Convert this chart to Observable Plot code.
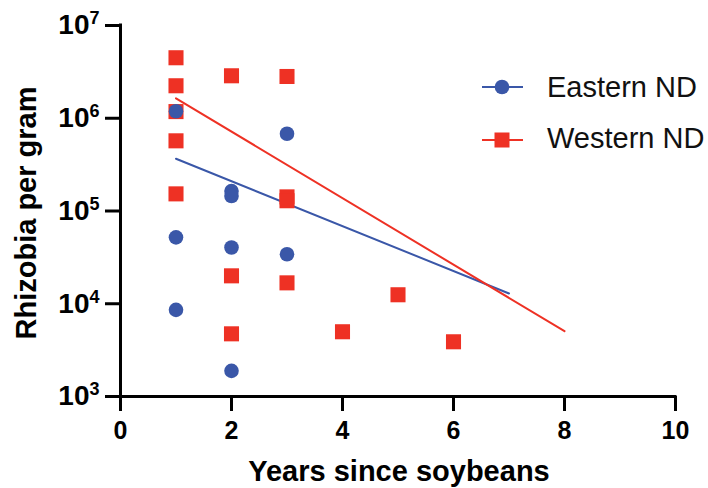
<!DOCTYPE html>
<html>
<head>
<meta charset="utf-8">
<script src="https://cdn.jsdelivr.net/npm/d3@7"></script>
<script src="https://cdn.jsdelivr.net/npm/@observablehq/plot@0.6"></script>
<style>
  html, body { margin: 0; padding: 0; background: #fff; }
  #chart { position: relative; width: 708px; height: 488px; overflow: hidden; }
</style>
</head>
<body>
<div id="chart"></div>
<script>
// ---- data ----
const seriesNames = ["Eastern ND", "Western ND"];
const seriesColors = ["#3A57A8", "#EE3124"];

const eastX = [1, 1, 1, 2, 2, 2, 2, 3, 3];
const eastY = [1.19e6, 5.2e4, 8.6e3, 1.64e5, 1.45e5, 4.04e4, 1.89e3, 6.8e5, 3.42e4];

const westX = [1, 1, 1, 1, 1, 2, 2, 2, 3, 3, 3, 3, 4, 5, 6];
const westY = [4.49e6, 2.24e6, 1.18e6, 5.71e5, 1.53e5, 2.87e6, 2.0e4, 4.74e3, 2.82e6, 1.42e5, 1.29e5, 1.68e4, 4.99e3, 1.25e4, 3.89e3];

// fitted trend lines (end points)
const eastFitX = [1, 7];
const eastFitY = [3.66e5, 1.29e4];
const westFitX = [1, 8];
const westFitY = [1.64e6, 5.06e3];

const xTicks = [0, 2, 4, 6, 8, 10];
const yTicks = [1e3, 1e4, 1e5, 1e6, 1e7];
const xTitle = "Years since soybeans";
const yTitle = "Rhizobia per gram";

// ---- tables ----
const east = eastX.map((x, i) => ({x, y: eastY[i]}));
const west = westX.map((x, i) => ({x, y: westY[i]}));
const eastFit = eastFitX.map((x, i) => ({x, y: eastFitY[i]}));
const westFit = westFitX.map((x, i) => ({x, y: westFitY[i]}));

const FONT = "'Liberation Sans', Arial, Helvetica, sans-serif";
const [blue, red] = seriesColors;

const plot = Plot.plot({
  width: 708,
  height: 488,
  marginLeft: 120,
  marginRight: 33,
  marginTop: 25,
  marginBottom: 92,
  style: {fontFamily: FONT, background: "white", color: "black", overflow: "visible"},
  x: {domain: [xTicks[0], xTicks[xTicks.length - 1]]},
  y: {type: "log", domain: [yTicks[0], yTicks[yTicks.length - 1]]},
  marks: [
    Plot.ruleX([xTicks[0]], {y1: yTicks[0], y2: yTicks[yTicks.length - 1], stroke: "black", strokeWidth: 3, strokeLinecap: "square"}),
    Plot.ruleY([yTicks[0]], {x1: xTicks[0], x2: xTicks[xTicks.length - 1], stroke: "black", strokeWidth: 3, strokeLinecap: "square"}),
    Plot.axisX({ticks: xTicks, tickSize: 15, tickPadding: 10, strokeWidth: 3, fontSize: 25, fontWeight: "bold", label: null, tickFormat: d => String(d)}),
    Plot.axisY({ticks: yTicks, tickSize: 15, tickPadding: 6, strokeWidth: 3, fontSize: 28, fontWeight: "bold", label: null, tickFormat: d => String(Math.round(Math.log10(d)))}),
    Plot.line(eastFit, {x: "x", y: "y", stroke: blue, strokeWidth: 2}),
    Plot.line(westFit, {x: "x", y: "y", stroke: red, strokeWidth: 2}),
    Plot.dot(west, {x: "x", y: "y", symbol: "square", fill: red, stroke: "none", r: 8.5}),
    Plot.dot(east, {x: "x", y: "y", symbol: "circle", fill: blue, stroke: "none", r: 7.3})
  ]
});

document.getElementById("chart").appendChild(plot);
const svg = d3.select(plot);

// superscript exponents on y tick labels
svg.selectAll('g[aria-label="y-axis tick label"] text').each(function () {
  const e = this.textContent;
  const t = d3.select(this);
  t.text(null);
  t.append("tspan").text("10");
  t.append("tspan").attr("dy", -10).attr("font-size", 18).text(e);
});

// axis titles
svg.append("text")
  .attr("x", 399).attr("y", 481)
  .attr("text-anchor", "middle")
  .attr("font-family", FONT).attr("font-size", 29).attr("font-weight", "bold")
  .attr("fill", "black")
  .text(xTitle);

svg.append("text")
  .attr("transform", "translate(36,213) rotate(-90)")
  .attr("text-anchor", "middle")
  .attr("font-family", FONT).attr("font-size", 29).attr("font-weight", "bold")
  .attr("fill", "black")
  .text(yTitle);

// legend
const legend = svg.append("g").attr("aria-label", "legend");
const rows = [
  {name: seriesNames[0], color: blue, symbol: "circle", cy: 87, base: 97},
  {name: seriesNames[1], color: red, symbol: "square", cy: 140, base: 148}
];
rows.forEach(r => {
  legend.append("line")
    .attr("x1", 482).attr("x2", 523).attr("y1", r.cy).attr("y2", r.cy)
    .attr("stroke", r.color).attr("stroke-width", 2);
  if (r.symbol === "circle") {
    legend.append("circle").attr("cx", 502).attr("cy", r.cy).attr("r", 7.3).attr("fill", r.color);
  } else {
    legend.append("rect").attr("x", 502 - 7.5).attr("y", r.cy - 7.5).attr("width", 15).attr("height", 15).attr("fill", r.color);
  }
  legend.append("text")
    .attr("x", 547).attr("y", r.base)
    .attr("text-anchor", "start")
    .attr("font-family", FONT).attr("font-size", 29)
    .attr("fill", "#111")
    .text(r.name);
});
</script>
</body>
</html>
